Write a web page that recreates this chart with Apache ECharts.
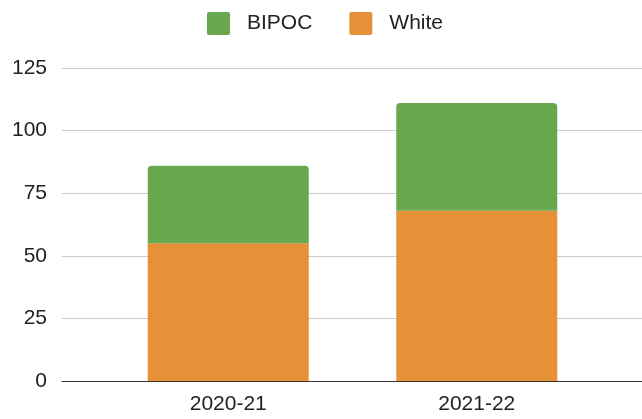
<!DOCTYPE html>
<html>
<head>
<meta charset="utf-8">
<script src="https://cdn.jsdelivr.net/npm/echarts@6/dist/echarts.min.js"></script>
<style>html,body{margin:0;padding:0;background:#fff}#c{width:642px;height:419px}</style>
</head>
<body>
<div id="c"></div>
<script>
const categories = ['2020-21', '2021-22'];
const white = [55, 68];
const bipoc = [31, 43];
const yTicks = [0, 25, 50, 75, 100, 125];

const chart = echarts.init(document.getElementById('c'), null, {renderer: 'canvas'});
const font = 'Liberation Sans, Arial, sans-serif';
chart.setOption({
  animation: false,
  legend: {
    data: ['BIPOC', 'White'],
    top: 7,
    left: 202,
    icon: 'path://M2,0H21A2,2,0,0,1,23,2V21A2,2,0,0,1,21,23H2A2,2,0,0,1,0,21V2A2,2,0,0,1,2,0Z',
    itemWidth: 23,
    itemHeight: 23,
    itemGap: 37,
    textStyle: {fontFamily: font, fontSize: 21, color: '#222', padding: [0, 0, 0, 12]}
  },
  grid: [
    {left: 62, right: 0, top: 68, bottom: 38},
    {left: 104, right: 41, top: 68, bottom: 38}
  ],
  xAxis: [
    {gridIndex: 0, type: 'value', min: 0, max: 1,
     axisLine: {show: true, lineStyle: {color: '#333', width: 1}},
     axisTick: {show: false}, axisLabel: {show: false}, splitLine: {show: false}},
    {gridIndex: 1, type: 'category', data: categories,
     axisLine: {show: false}, axisTick: {show: false},
     axisLabel: {fontFamily: font, fontSize: 21, color: '#222', margin: 13}}
  ],
  yAxis: [
    {gridIndex: 0, type: 'value', min: yTicks[0], max: yTicks[yTicks.length - 1], interval: 25,
     axisLine: {show: false}, axisTick: {show: false},
     axisLabel: {fontFamily: font, fontSize: 21, color: '#222', margin: 15},
     splitLine: {lineStyle: {color: '#cccccc', width: 1}}},
    {gridIndex: 1, type: 'value', min: yTicks[0], max: yTicks[yTicks.length - 1], interval: 25, show: false}
  ],
  series: [
    {name: 'White', type: 'bar', stack: 'a', xAxisIndex: 1, yAxisIndex: 1, data: white,
     barWidth: 161, itemStyle: {color: '#e69138'}},
    {name: 'BIPOC', type: 'bar', stack: 'a', xAxisIndex: 1, yAxisIndex: 1, data: bipoc,
     barWidth: 161, itemStyle: {color: '#6aa84f', borderRadius: [4, 4, 0, 0]}}
  ]
});
</script>
</body>
</html>
